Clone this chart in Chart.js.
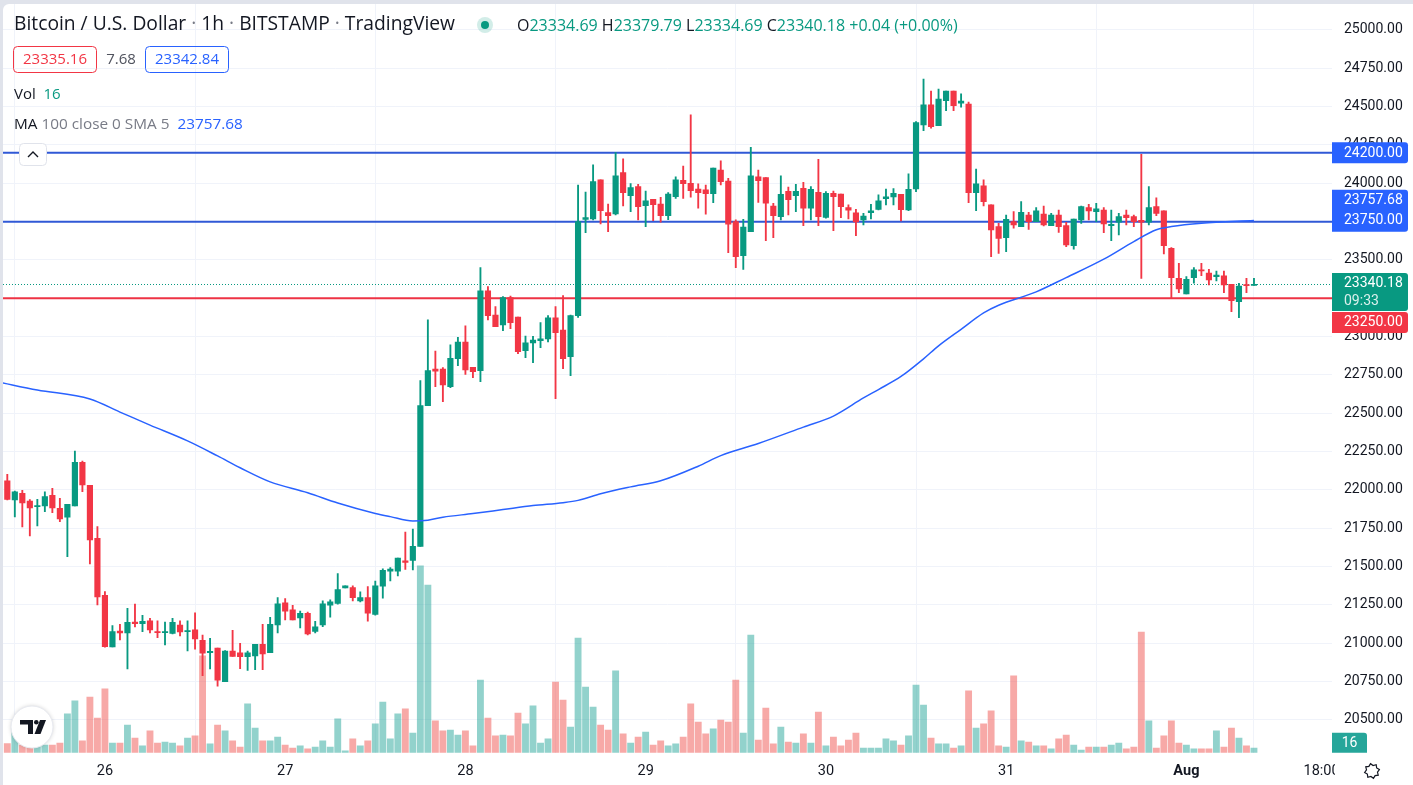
<!DOCTYPE html>
<html><head><meta charset="utf-8">
<script src="https://cdn.jsdelivr.net/npm/chart.js@4.4.1/dist/chart.umd.min.js"></script>
<style>
html,body{margin:0;padding:0;background:#e0e3eb;overflow:hidden}
#wrap{position:absolute;left:0;top:0;width:1413px;height:785px}
</style></head>
<body><div id="wrap"><canvas id="c" width="1413" height="785"></canvas></div>
<script>
// ---------- DATA (hourly candles, Jul 25 11:00 -> Aug 1 09:00) ----------
const opens  = [22059,21935,21978,21928,21891,21896,21965,21880,21822,21896,22180,22030,21685,21313,20976,21080,21067,21139,21128,21146,21074,21070,21065,21119,21076,21087,21020,20939,20968,20750,20949,20938,20912,20918,20994,20938,21119,21264,21219,21165,21195,21078,21119,21249,21260,21361,21363,21277,21298,21188,21372,21471,21471,21538,21540,21631,22550,22789,22789,22674,22856,22965,22800,22778,23298,23141,23076,23254,23128,22909,22959,22974,22985,23122,23043,22869,23137,23765,23767,24022,23809,23800,24070,23920,23978,23854,23896,23865,23789,23913,24020,24000,23963,23957,23933,24087,24015,23750,23528,23685,24043,24037,23852,23783,23948,23920,23967,23837,23941,23778,23935,23930,23841,23807,23761,23809,23830,23900,23911,23928,23826,23963,24380,24511,24376,24539,24602,24522,24517,23939,23983,23859,23717,23646,23750,23717,23793,23750,23800,23724,23793,23724,23593,23761,23841,23815,23826,23724,23746,23793,23783,23759,23746,23848,23820,23576,23380,23278,23385,23435,23415,23391,23396,23341,23228,23337,23334.69];
const highs  = [22102,21993,21998,21937,21939,21987,22011,21946,21907,22254,22189,22030,21761,21337,21115,21124,21228,21256,21183,21163,21146,21139,21163,21146,21146,21198,21054,21033,20968,20953,21085,21000,20949,20994,21124,21169,21298,21292,21247,21210,21203,21143,21277,21283,21454,21374,21374,21335,21370,21406,21486,21493,21556,21726,21745,22713,23109,22906,22798,22946,22996,23070,22800,23450,23326,23196,23261,23265,23128,23004,23002,23091,23137,23196,23267,23141,23989,23943,24120,24022,23865,24200,24159,23998,23993,23950,23896,23909,23939,24043,24113,24446,23996,23989,24100,24146,24033,23761,23765,24235,24087,24037,23870,24048,23976,23993,24007,23978,24157,23946,23950,23930,23859,23830,23804,23863,23924,23963,23965,23928,24061,24402,24680,24602,24615,24602,24602,24583,24530,24093,24022,23859,23739,23793,23815,23880,23811,23841,23852,23804,23826,23746,23767,23852,23863,23870,23841,23826,23804,23826,23793,24189,23978,23906,23820,23580,23478,23391,23450,23478,23439,23428,23428,23341,23348,23380,23379.79];
const lows   = [21935,21824,21759,21700,21765,21859,21852,21793,21565,21896,21989,21517,21250,20974,20976,21022,20833,21106,21076,21067,21037,20989,21061,21048,20950,20961,20789,20833,20720,20750,20914,20834,20823,20828,20828,20938,21067,21152,21152,21100,21054,21067,21108,21171,21255,21361,21277,21270,21145,21184,21294,21406,21439,21482,21478,21631,22550,22674,22576,22667,22811,22754,22733,22706,23109,23065,23039,23052,22889,22863,22830,22928,22965,22596,22791,22746,23126,23678,23761,23735,23685,23793,23852,23815,23761,23717,23757,23746,23763,23902,23902,23909,23837,23798,23874,23989,23548,23450,23439,23685,23876,23626,23646,23761,23793,23815,23724,23761,23724,23772,23691,23776,23767,23659,23728,23767,23826,23859,23859,23754,23822,23946,24343,24359,24376,24474,24474,24496,23874,23822,23852,23522,23543,23554,23707,23717,23700,23750,23722,23724,23680,23587,23570,23739,23761,23750,23678,23626,23663,23728,23717,23380,23728,23789,23539,23250,23287,23278,23348,23398,23337,23363,23287,23163,23124,23287,23334.69];
const closes = [21939,21987,21915,21883,21896,21957,21883,21811,21907,22180,22033,21674,21302,20978,21076,21067,21137,21128,21143,21087,21070,21074,21137,21074,21083,21028,20935,20948,20759,20949,20914,20912,20938,20994,20931,21124,21257,21210,21152,21195,21061,21108,21257,21270,21350,21374,21298,21298,21197,21374,21476,21484,21556,21527,21633,22551,22778,22774,22685,22859,22965,22783,22772,23298,23137,23065,23254,23091,22902,22959,22978,22985,23122,23026,22856,23137,23750,23776,24011,23822,23789,24048,23939,23972,23848,23885,23861,23789,23930,24022,23998,23952,23939,23933,24100,24011,23733,23522,23715,24048,24017,23870,23789,23928,23893,23948,23837,23961,23783,23935,23913,23848,23824,23748,23787,23820,23885,23911,23935,23828,23961,24396,24511,24370,24550,24602,24507,24537,23939,23996,23880,23696,23641,23765,23728,23811,23750,23820,23728,23793,23717,23598,23767,23848,23820,23833,23735,23733,23783,23776,23750,23746,23841,23804,23593,23385,23311,23374,23435,23428,23370,23402,23337,23235,23330,23333,23340.18];
const volumes = [31,91,26,26,26,26,26,33,132,176,40,189,118,217,33,33,94,50,23,74,33,36,33,23,50,57,329,30,94,74,40,19,166,84,40,40,53,26,16,23,13,19,40,19,115,6,47,23,40,98,172,47,132,149,67,635,570,108,74,77,60,74,23,247,118,57,60,57,135,98,159,33,47,240,179,87,390,223,155,94,77,278,64,33,53,70,26,40,23,30,53,166,104,64,81,111,104,247,67,400,43,152,30,87,36,33,64,33,138,23,53,23,43,67,16,16,16,47,40,26,57,230,162,50,30,30,16,23,210,84,98,142,23,19,261,40,36,23,23,13,47,60,26,9,19,19,19,26,33,13,19,410,108,16,57,108,33,26,13,13,13,74,19,84,50,23,16];
// MA 100 (read at candle indices)
const maIdx = [-1,4,11,15,19,24,28,31,35,40,44,49,51,54,56,58,62,66,70,74,76,79,83,87,92,95,100,106,110,114,116,119,122,124,127,130,132,137,141,146,150,153,155,159,166];
const maVal = [22702,22652,22593,22508,22423,22320,22222,22145,22053,21982,21915,21847,21826,21798,21803,21822,21846,21872,21898,21917,21932,21975,22020,22060,22155,22224,22303,22410,22482,22600,22655,22740,22855,22940,23048,23155,23205,23292,23385,23505,23620,23697,23718,23740,23757.68];
// axis ticks
const timeTickIdx = [13,37,61,85,109,133,157,175];
const timeTickLabels = ['26','27','28','29','30','31','Aug','18:00'];
const priceTicks = [20500,20750,21000,21250,21500,21750,22000,22250,22500,22750,23000,23250,23500,23750,24000,24250,24500,24750,25000];
// drawn levels
const blueLevels = [24200, 23750];
const redLevel = 23250;
const lastPrice = 23340.18;
const maLast = 23757.68;
const lastVolume = 16;
const countdown = '09:33';

// ---------- STYLE ----------
const FONT = "Roboto, 'Open Sans', sans-serif";
const HFONT = "'Open Sans', Roboto, sans-serif";
const UP = '#089981', DOWN = '#f23645';
const UPV = 'rgba(38,166,154,0.5)', DOWNV = 'rgba(239,83,80,0.5)';
const BLUE = '#2962ff', TEXT = '#131722', GRAY = '#787b86';

const idx = opens.map((_, i) => i);
const isUp = idx.map(i => closes[i] >= opens[i]);

function runs(ctx, x, y, parts, font) {
  ctx.font = font;
  for (const [t, c] of parts) { ctx.fillStyle = c; ctx.fillText(t, x, y); x += ctx.measureText(t).width; }
  return x;
}
// font size so that a run of parts spans the target width
function fitFont(ctx, parts, target, family, weight) {
  ctx.font = (weight || '') + ' 20px ' + family;
  let w = 0; for (const [t] of parts) w += ctx.measureText(t).width;
  return (weight || '') + ' ' + (20 * target / w).toFixed(2) + 'px ' + family;
}
function rrect(ctx, x, y, w, h, r) { ctx.beginPath(); ctx.roundRect(x, y, w, h, r); }

const decor = {
  id: 'decor',
  beforeDraw(chart) {
    const ctx = chart.ctx;
    ctx.save();
    ctx.fillStyle = '#e0e3eb'; ctx.fillRect(0, 0, 1413, 785);
    ctx.fillStyle = '#ffffff'; rrect(ctx, 3, 4, 1420, 800, 6); ctx.fill();
    ctx.restore();
  },
  beforeDatasetsDraw(chart) {
    const ctx = chart.ctx, y = chart.scales.y, a = chart.chartArea;
    ctx.save();
    ctx.beginPath(); ctx.rect(a.left, a.top, a.right - a.left, a.bottom - a.top); ctx.clip();
    let py = Math.round(y.getPixelForValue(lastPrice)) + 0.5;
    ctx.strokeStyle = UP; ctx.lineWidth = 1; ctx.setLineDash([1, 2]);
    ctx.beginPath(); ctx.moveTo(a.left, py); ctx.lineTo(a.right, py); ctx.stroke();
    ctx.setLineDash([]);
    ctx.lineWidth = 2;
    ctx.strokeStyle = '#3059d6';
    for (const v of blueLevels) {
      const p = y.getPixelForValue(v);
      ctx.beginPath(); ctx.moveTo(a.left, p); ctx.lineTo(a.right, p); ctx.stroke();
    }
    ctx.strokeStyle = '#ee3344';
    const pr = y.getPixelForValue(redLevel);
    ctx.beginPath(); ctx.moveTo(a.left, pr); ctx.lineTo(a.right, pr); ctx.stroke();
    ctx.restore();
  },
  afterDraw(chart) {
    const ctx = chart.ctx, y = chart.scales.y, x = chart.scales.x, yv = chart.scales.yv, a = chart.chartArea;
    ctx.save();
    ctx.textBaseline = 'middle';
    // ---- time labels (clipped at price axis)
    ctx.save();
    ctx.beginPath(); ctx.rect(0, a.bottom, a.right + 3, 40); ctx.clip();
    ctx.textAlign = 'center';
    timeTickIdx.forEach((v, i) => {
      ctx.font = (timeTickLabels[i] === 'Aug' ? 'bold ' : '') + '14.5px ' + FONT;
      ctx.fillStyle = TEXT;
      ctx.fillText(timeTickLabels[i], x.getPixelForValue(v), 771);
    });
    ctx.restore();
    ctx.textAlign = 'left';

    // ---- price axis boxes
    const bx = a.right, bw = 76, lblX = a.right + 12;
    ctx.font = '14px ' + FONT;
    let c = y.getPixelForValue(blueLevels[0]);
    ctx.fillStyle = BLUE; rrect(ctx, bx, c - 10.5, bw, 21, [0, 3, 3, 0]); ctx.fill();
    ctx.fillStyle = '#fff'; ctx.fillText(blueLevels[0].toFixed(2), lblX, c + 0.5);
    c = y.getPixelForValue(blueLevels[1]);
    ctx.fillStyle = BLUE; rrect(ctx, bx, c - 32, bw, 42, [0, 3, 3, 0]); ctx.fill();
    ctx.fillStyle = '#fff';
    ctx.fillText(maLast.toFixed(2), lblX, c - 21);
    ctx.fillText(blueLevels[1].toFixed(2), lblX, c - 1);
    c = y.getPixelForValue(lastPrice);
    const gTop = c - 11.5, gH = 38;
    ctx.fillStyle = UP; rrect(ctx, bx, gTop, bw, gH, [0, 3, 3, 0]); ctx.fill();
    ctx.fillStyle = '#fff'; ctx.fillText(lastPrice.toFixed(2), lblX, c - 1);
    ctx.fillStyle = 'rgba(255,255,255,0.85)'; ctx.fillText(countdown, lblX, c + 17);
    c = y.getPixelForValue(redLevel);
    const rTop = Math.max(c - 10.5, gTop + gH + 1);
    ctx.fillStyle = DOWN; rrect(ctx, bx, rTop, bw, 21, [0, 3, 3, 0]); ctx.fill();
    ctx.fillStyle = '#fff'; ctx.fillText(redLevel.toFixed(2), lblX, rTop + 11);
    c = yv.getPixelForValue(lastVolume);
    const vTop = Math.min(c - 10, a.bottom - 20);
    ctx.fillStyle = '#26a69a'; rrect(ctx, bx, vTop, 35, 20, [0, 3, 0, 0]); ctx.fill();
    ctx.fillStyle = '#fff'; ctx.textAlign = 'center'; ctx.fillText(String(lastVolume), bx + 17.5, vTop + 10.5);
    ctx.textAlign = 'left';

    // ---- header legend
    const title = [['Bitcoin / U.S. Dollar', TEXT], [' · ', GRAY], ['1h', TEXT], [' · ', GRAY], ['BITSTAMP', TEXT], [' · ', GRAY], ['TradingView', TEXT]];
    runs(ctx, 14, 25, title, fitFont(ctx, title, 441, HFONT));
    ctx.fillStyle = 'rgba(8,153,129,0.18)'; ctx.beginPath(); ctx.arc(485, 25, 8, 0, Math.PI * 2); ctx.fill();
    ctx.fillStyle = UP; ctx.beginPath(); ctx.arc(485, 25, 4, 0, Math.PI * 2); ctx.fill();
    const ohlc = [['O', TEXT], [opens[166].toFixed(2), UP], [' H', TEXT], [highs[166].toFixed(2), UP], [' L', TEXT], [lows[166].toFixed(2), UP], [' C', TEXT], [closes[166].toFixed(2), UP], [' +0.04 (+0.00%)', UP]];
    runs(ctx, 517, 26, ohlc, fitFont(ctx, ohlc, 441, HFONT));
    // bid / ask boxes
    const bf = '15px ' + HFONT;
    ctx.font = bf; ctx.lineWidth = 1;
    ctx.strokeStyle = DOWN; rrect(ctx, 13.5, 46.5, 83, 26, 4); ctx.stroke();
    ctx.fillStyle = DOWN; ctx.textAlign = 'center'; ctx.fillText('23335.16', 55, 60);
    ctx.fillStyle = '#50535e'; ctx.fillText('7.68', 121, 60);
    ctx.strokeStyle = BLUE; rrect(ctx, 145.5, 46.5, 83, 26, 4); ctx.stroke();
    ctx.fillStyle = BLUE; ctx.fillText('23342.84', 187, 60);
    ctx.textAlign = 'left';
    runs(ctx, 14, 95, [['Vol', TEXT], ['  ', TEXT], [String(lastVolume), UP]], bf);
    const maRun = [['MA', TEXT], [' 100 close 0 SMA 5  ', GRAY], [maLast.toFixed(2), BLUE]];
    runs(ctx, 14, 125, maRun, fitFont(ctx, maRun, 229, HFONT));
    // collapse button
    ctx.strokeStyle = '#e0e3eb'; ctx.fillStyle = '#fff'; ctx.lineWidth = 1;
    rrect(ctx, 19.5, 143.5, 27, 22, 4); ctx.fill(); ctx.stroke();
    ctx.strokeStyle = TEXT; ctx.lineWidth = 1.4;
    ctx.beginPath(); ctx.moveTo(28, 157); ctx.lineTo(33, 152); ctx.lineTo(38, 157); ctx.stroke();

    // ---- TV logo
    ctx.save();
    ctx.shadowColor = 'rgba(0,0,0,0.18)'; ctx.shadowBlur = 4;
    ctx.fillStyle = '#fff'; ctx.beginPath(); ctx.arc(32, 727, 21, 0, Math.PI * 2); ctx.fill();
    ctx.restore();
    ctx.strokeStyle = '#e8eaf0'; ctx.lineWidth = 1; ctx.beginPath(); ctx.arc(32, 727, 21, 0, Math.PI * 2); ctx.stroke();
    ctx.fillStyle = TEXT;
    ctx.fillRect(20, 720, 13, 4.5);
    ctx.fillRect(28, 720, 5, 14);
    ctx.beginPath(); ctx.arc(36.3, 722.3, 2.3, 0, Math.PI * 2); ctx.fill();
    ctx.beginPath(); ctx.moveTo(40, 720); ctx.lineTo(46, 720); ctx.lineTo(40.5, 734); ctx.lineTo(34.5, 734); ctx.closePath(); ctx.fill();

    // ---- gear icon
    const gx = 1372, gy = 771;
    ctx.strokeStyle = TEXT; ctx.lineWidth = 1.2;
    ctx.beginPath();
    for (let i = 0; i < 16; i++) {
      const ang = i * Math.PI / 8 - Math.PI / 16;
      const r = (i % 2 === 0) ? 7.5 : 5.6;
      const px = gx + r * Math.cos(ang), pyy = gy + r * Math.sin(ang);
      if (i === 0) ctx.moveTo(px, pyy); else ctx.lineTo(px, pyy);
    }
    ctx.closePath(); ctx.stroke();
    ctx.restore();
  }
};

const noPad = s => { s.paddingTop = 0; s.paddingBottom = 0; s.paddingLeft = 0; s.paddingRight = 0; };

new Chart(document.getElementById('c'), {
  type: 'bar',
  data: {
    datasets: [
      { type: 'line', label: 'MA', data: maIdx.map((k, i) => ({ x: k, y: maVal[i] })), borderColor: BLUE, borderWidth: 1.5,
        pointRadius: 0, cubicInterpolationMode: 'monotone', yAxisID: 'y', order: 0 },
      { label: 'body', data: idx.map(i => ({ x: i, y: [opens[i], closes[i]] })), backgroundColor: idx.map(i => isUp[i] ? UP : DOWN),
        barThickness: 5.5, minBarLength: 1, grouped: false, yAxisID: 'y', order: 1 },
      { label: 'wick', data: idx.map(i => ({ x: i, y: [lows[i], highs[i]] })), backgroundColor: idx.map(i => isUp[i] ? UP : DOWN),
        barThickness: 1.2, grouped: false, yAxisID: 'y', order: 2 },
      { label: 'Vol', data: idx.map(i => ({ x: i, y: volumes[i] })), backgroundColor: idx.map(i => isUp[i] ? UPV : DOWNV),
        barThickness: 6.2, grouped: false, yAxisID: 'yv', order: 3 }
    ]
  },
  options: {
    responsive: false, animation: false,
    layout: { padding: { left: 3, top: 4, right: 0, bottom: 0 } },
    plugins: { legend: { display: false }, tooltip: { enabled: false } },
    scales: {
      x: {
        type: 'linear', position: 'bottom', offset: false, min: -0.573, max: 176.39,
        grid: { color: '#f0f3fa', drawTicks: false, lineWidth: 1 }, border: { display: false },
        ticks: { display: false },
        afterBuildTicks: s => { s.ticks = timeTickIdx.map(v => ({ value: v })); },
        afterFit: s => { noPad(s); s.height = 32.3; }
      },
      y: {
        type: 'linear', position: 'right', min: 20286.4, max: 25169.4,
        grid: { color: '#f0f3fa', drawTicks: false }, border: { display: false },
        ticks: { padding: 12, color: TEXT, font: { size: 14, family: FONT }, callback: v => Number(v).toFixed(2), autoSkip: false },
        afterBuildTicks: s => { s.ticks = priceTicks.map(v => ({ value: v })); },
        afterFit: s => { noPad(s); s.width = 81; }
      },
      yv: { type: 'linear', display: false, min: 0, max: 2545.6 }
    }
  },
  plugins: [decor]
});
</script>
</body></html>
